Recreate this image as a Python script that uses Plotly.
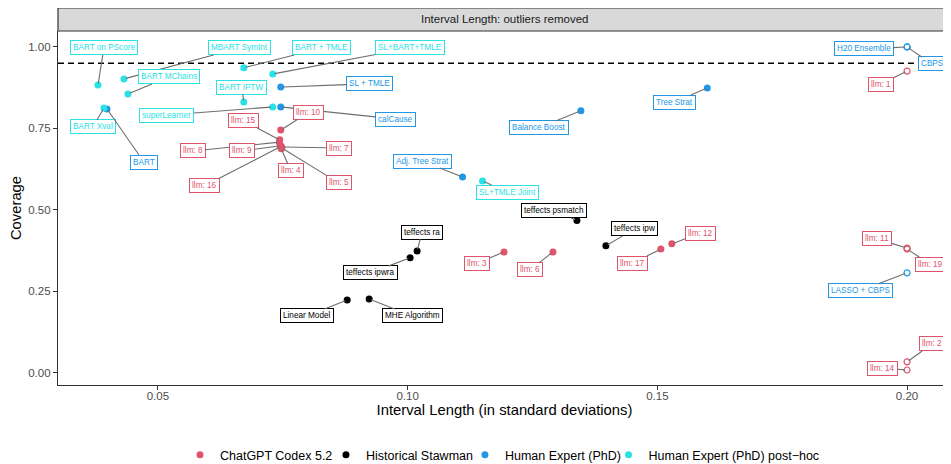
import plotly.graph_objects as go

# ---- data ----
methods = [
    "BART on PScore", "MBART SymInt", "BART MChains", "BART + TMLE", "SL+BART+TMLE",
    "BART IPTW", "superLearner", "BART Xval", "SL+TMLE Joint",
    "BART", "SL + TMLE", "calCause", "Adj. Tree Strat", "Balance Boost", "Tree Strat",
    "H20 Ensemble", "CBPS", "LASSO + CBPS",
    "llm: 10", "llm: 15", "llm: 8", "llm: 9", "llm: 7", "llm: 4", "llm: 5", "llm: 16",
    "llm: 3", "llm: 6", "llm: 17", "llm: 12", "llm: 1", "llm: 11", "llm: 19", "llm: 2", "llm: 14",
    "teffects ra", "teffects ipwra", "Linear Model", "MHE Algorithm", "teffects psmatch", "teffects ipw",
]
groups = (
    ["Human Expert (PhD) post−hoc"] * 9
    + ["Human Expert (PhD)"] * 9
    + ["ChatGPT Codex 5.2"] * 17
    + ["Historical Stawman"] * 6
)
interval_length = [
    0.0380, 0.0432, 0.0440, 0.0672, 0.0730,
    0.0672, 0.0730, 0.0392, 0.1150,
    0.0398, 0.0746, 0.0746, 0.1110, 0.1347, 0.1600,
    0.2000, 0.2000, 0.2000,
    0.0746, 0.0744, 0.0743, 0.0746, 0.0748, 0.0747, 0.0748, 0.0745,
    0.1193, 0.1291, 0.1507, 0.1529, 0.2000, 0.2000, 0.2000, 0.2000, 0.2000,
    0.1019, 0.1005, 0.0879, 0.0923, 0.1339, 0.1397,
]
coverage = [
    0.883, 0.902, 0.856, 0.936, 0.917,
    0.831, 0.816, 0.813, 0.589,
    0.810, 0.877, 0.816, 0.601, 0.804, 0.874,
    1.000, 1.000, 0.307,
    0.745, 0.715, 0.708, 0.697, 0.693, 0.688, 0.690, 0.694,
    0.371, 0.371, 0.380, 0.396, 0.926, 0.383, 0.380, 0.034, 0.009,
    0.374, 0.353, 0.224, 0.227, 0.468, 0.390,
]
# True where the interval length exceeded the axis limit (outlier, drawn capped at 0.20)
capped = (
    [False] * 15 + [True, True, True] + [False] * 12 + [True] * 5 + [False] * 6
)

# repelled label placement (data coordinates)
label_pos = {
    "BART on PScore": (0.0392, 0.997), "MBART SymInt": (0.0664, 0.997),
    "BART + TMLE": (0.0828, 0.997), "SL+BART+TMLE": (0.1005, 0.997),
    "BART MChains": (0.0522, 0.908), "BART IPTW": (0.0668, 0.877),
    "superLearner": (0.0518, 0.791), "BART Xval": (0.0370, 0.755),
    "SL+TMLE Joint": (0.1199, 0.555), "BART": (0.0472, 0.647),
    "SL + TMLE": (0.0923, 0.887), "calCause": (0.0975, 0.779),
    "Adj. Tree Strat": (0.1029, 0.650), "Balance Boost": (0.1263, 0.752),
    "Tree Strat": (0.1534, 0.831), "H20 Ensemble": (0.1914, 0.994),
    "CBPS": (0.2050, 0.948), "LASSO + CBPS": (0.1906, 0.252),
    "llm: 10": (0.0802, 0.800), "llm: 15": (0.0672, 0.773),
    "llm: 8": (0.0570, 0.681), "llm: 9": (0.0668, 0.681),
    "llm: 7": (0.0862, 0.690), "llm: 4": (0.0766, 0.620),
    "llm: 5": (0.0862, 0.583), "llm: 16": (0.0594, 0.574),
    "llm: 3": (0.1139, 0.337), "llm: 6": (0.1245, 0.316),
    "llm: 17": (0.1451, 0.337), "llm: 12": (0.1586, 0.429),
    "llm: 1": (0.1948, 0.886), "llm: 11": (0.1940, 0.411),
    "llm: 19": (0.2046, 0.334), "llm: 2": (0.2050, 0.089),
    "llm: 14": (0.1950, 0.015),
    "teffects ra": (0.1029, 0.432), "teffects ipwra": (0.0925, 0.307),
    "Linear Model": (0.0798, 0.175), "MHE Algorithm": (0.1010, 0.175),
    "teffects psmatch": (0.1293, 0.497), "teffects ipw": (0.1455, 0.442),
}

group_order = ["ChatGPT Codex 5.2", "Historical Stawman", "Human Expert (PhD)", "Human Expert (PhD) post−hoc"]
group_colors = {
    "ChatGPT Codex 5.2": "#DF536B",
    "Historical Stawman": "#000000",
    "Human Expert (PhD)": "#2297E6",
    "Human Expert (PhD) post−hoc": "#28E2E5",
}

x_ticks = [0.05, 0.10, 0.15, 0.20]
x_tick_labels = ["0.05", "0.10", "0.15", "0.20"]
y_ticks = [0.00, 0.25, 0.50, 0.75, 1.00]
y_tick_labels = ["0.00", "0.25", "0.50", "0.75", "1.00"]
nominal_coverage = 0.95

FONT = "Liberation Sans, Arial, Helvetica, sans-serif"

# one single-entry legend per group, laid out in a row like ggplot's bottom legend
legend_ids = ["legend", "legend2", "legend3", "legend4"]
legend_x = [0.1366, 0.3001, 0.4557, 0.6165]

fig = go.Figure()

for g, lid in zip(group_order, legend_ids):
    idx = [i for i, gg in enumerate(groups) if gg == g]
    filled = [i for i in idx if not capped[i]]
    opened = [i for i in idx if capped[i]]
    fig.add_trace(go.Scatter(
        x=[interval_length[i] for i in filled], y=[coverage[i] for i in filled],
        mode="markers", name=g, legendgroup=g, legend=lid,
        marker=dict(color=group_colors[g], size=7, line=dict(width=0)),
        hovertext=[methods[i] for i in filled],
    ))
    if opened:
        fig.add_trace(go.Scatter(
            x=[interval_length[i] for i in opened], y=[coverage[i] for i in opened],
            mode="markers", name=g, legendgroup=g, legend=lid, showlegend=False,
            marker=dict(color=group_colors[g], size=6, symbol="circle-open", line=dict(width=1.2)),
            hovertext=[methods[i] for i in opened],
        ))

# repelled labels
for i, m in enumerate(methods):
    c = group_colors[groups[i]]
    lx, ly = label_pos[m]
    fig.add_annotation(
        x=interval_length[i], y=coverage[i], xref="x", yref="y",
        ax=lx, ay=ly, axref="x", ayref="y",
        text=m, showarrow=True, arrowhead=0, arrowwidth=1.1, arrowcolor="#6E6E6E",
        standoff=2, font=dict(family=FONT, size=8.2, color=c),
        bgcolor="white", bordercolor=c, borderwidth=1, borderpad=2,
    )

# nominal coverage line
fig.add_hline(y=nominal_coverage, line=dict(color="black", width=1.3, dash="6px,4px"), layer="below")

# facet strip
fig.add_shape(type="rect", xref="paper", yref="paper", x0=0, x1=1.01, y0=1.0, y1=1.065,
              fillcolor="#D9D9D9", line=dict(color="#333333", width=1.2))
fig.add_annotation(xref="paper", yref="paper", x=0.5, y=1.0325, text="Interval Length: outliers removed",
                   showarrow=False, font=dict(family=FONT, size=11.5, color="#1A1A1A"),
                   xanchor="center", yanchor="middle")

legend_style = dict(orientation="h", xanchor="left", y=-0.198, yanchor="middle",
                    font=dict(family=FONT, size=12.5, color="black"), itemwidth=30,
                    bgcolor="rgba(0,0,0,0)", borderwidth=0)

# page body has an 8px margin, so the figure is sized to fill the rest of the window
fig.update_layout(
    width=943, height=456,
    margin=dict(l=50, r=0, t=23, b=79, autoexpand=False),
    paper_bgcolor="white", plot_bgcolor="white",
    font=dict(family=FONT, size=11, color="#4D4D4D"),
    showlegend=True,
    **{lid: dict(legend_style, x=lx) for lid, lx in zip(legend_ids, legend_x)},
    xaxis=dict(range=[0.0300, 0.2088], tickvals=x_ticks, ticktext=x_tick_labels,
               showgrid=False, zeroline=False, showline=True, linecolor="#333333", linewidth=1.2,
               ticks="outside", ticklen=4, tickcolor="#333333", tickwidth=1.1, automargin=False,
               ticklabelstandoff=-4,
               tickfont=dict(family=FONT, size=11.5, color="#4D4D4D"),
               title=dict(text="Interval Length (in standard deviations)", standoff=2,
                          font=dict(family=FONT, size=14.8, color="black"))),
    yaxis=dict(range=[-0.037, 1.049], tickvals=y_ticks, ticktext=y_tick_labels,
               showgrid=False, zeroline=False, showline=True, linecolor="#333333", linewidth=1.2,
               ticks="outside", ticklen=4, tickcolor="#333333", tickwidth=1.1, automargin=False,
               tickfont=dict(family=FONT, size=11.5, color="#4D4D4D"),
               title=dict(text="Coverage", standoff=4,
                          font=dict(family=FONT, size=14.8, color="black"))),
)

fig.write_html("out.html")
